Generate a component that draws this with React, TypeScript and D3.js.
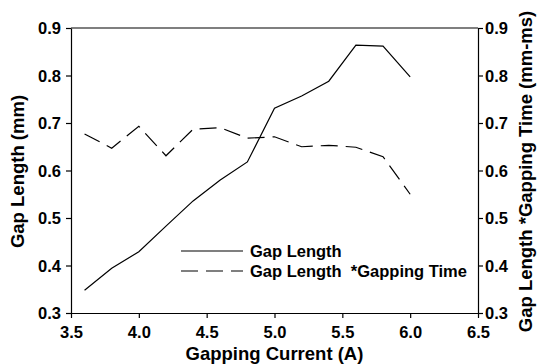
import React, { useEffect, useRef } from 'react';
import * as d3 from 'd3';

const current = [3.6, 3.8, 4.0, 4.2, 4.4, 4.6, 4.8, 5.0, 5.2, 5.4, 5.6, 5.8, 6.0];
const gapLength = [0.348, 0.394, 0.429, 0.483, 0.536, 0.58, 0.618, 0.731, 0.757, 0.788, 0.864, 0.862, 0.797];
const gapTimesTime = [0.677, 0.647, 0.693, 0.631, 0.687, 0.69, 0.668, 0.671, 0.65, 0.653, 0.649, 0.629, 0.55];
const xTicks = [3.5, 4.0, 4.5, 5.0, 5.5, 6.0, 6.5];
const yTicks = [0.3, 0.4, 0.5, 0.6, 0.7, 0.8, 0.9];

const W = 537;
const H = 364;
const margin = { top: 28, right: 59, bottom: 51, left: 71 };
const FONT = '"Liberation Sans", Arial, Helvetica, sans-serif';

export default function App() {
    const ref = useRef<SVGSVGElement>(null);

    useEffect(() => {
        const svg = d3.select(ref.current);
        svg.selectAll('*').remove();

        const x = d3.scaleLinear().domain([3.5, 6.5]).range([margin.left, W - margin.right]);
        const y = d3.scaleLinear().domain([0.3, 0.9]).range([H - margin.bottom, margin.top]);

        const g = svg.append('g')
            .style('font-family', FONT)
            .style('font-weight', 'bold');

        // frame on top
        g.append('line')
            .attr('x1', x(3.5)).attr('x2', x(6.5))
            .attr('y1', y(0.9)).attr('y2', y(0.9))
            .attr('stroke', '#000').attr('stroke-width', 1.2);

        const xAxis = g.append('g')
            .attr('transform', `translate(0,${y(0.3)})`)
            .call(d3.axisBottom(x).tickValues(xTicks).tickFormat(d3.format('.1f')).tickSize(5).tickSizeOuter(0));
        const yLeft = g.append('g')
            .attr('transform', `translate(${x(3.5)},0)`)
            .call(d3.axisLeft(y).tickValues(yTicks).tickFormat(d3.format('.1f')).tickSize(5).tickSizeOuter(0));
        const yRight = g.append('g')
            .attr('transform', `translate(${x(6.5)},0)`)
            .call(d3.axisRight(y).tickValues(yTicks).tickFormat(d3.format('.1f')).tickSize(5).tickSizeOuter(0));

        [xAxis, yLeft, yRight].forEach(a => {
            a.selectAll('path,line').attr('stroke', '#000').attr('stroke-width', 1.2);
            a.selectAll('text')
                .attr('fill', '#000')
                .style('font-family', FONT)
                .style('font-weight', 'bold')
                .style('font-size', '16.5px');
        });
        xAxis.selectAll('text').attr('y', 0).attr('dy', 0).attr('transform', 'translate(0,25)');
        yLeft.selectAll('text').attr('x', -10).attr('dy', '0.36em');
        yRight.selectAll('text').attr('x', 7).attr('dy', '0.36em');

        const line = d3.line<number>()
            .x((_, i) => x(current[i]))
            .y(d => y(d));

        g.append('path')
            .datum(gapLength)
            .attr('d', line)
            .attr('fill', 'none')
            .attr('stroke', '#000')
            .attr('stroke-width', 1.2);

        g.append('path')
            .datum(gapTimesTime)
            .attr('d', line)
            .attr('fill', 'none')
            .attr('stroke', '#000')
            .attr('stroke-width', 1.2)
            .attr('stroke-dasharray', '17,8');

        // legend
        const legend = [
            { label: 'Gap Length', dash: null },
            { label: 'Gap Length\u00a0 *Gapping Time', dash: '17,8' },
        ];
        legend.forEach((l, i) => {
            const ly = 251 + i * 20;
            g.append('line')
                .attr('x1', 181).attr('x2', 243)
                .attr('y1', ly).attr('y2', ly)
                .attr('stroke', '#000').attr('stroke-width', 1.2)
                .attr('stroke-dasharray', l.dash);
            g.append('text')
                .attr('x', 250).attr('y', ly + 6)
                .style('font-size', '16.5px')
                .text(l.label);
        });

        // axis titles
        g.append('text')
            .attr('x', (x(3.5) + x(6.5)) / 2).attr('y', 360)
            .attr('text-anchor', 'middle')
            .style('font-size', '18.5px')
            .text('Gapping Current (A)');
        g.append('text')
            .attr('transform', `translate(24,${(y(0.3) + y(0.9)) / 2 + 1}) rotate(-90)`)
            .attr('text-anchor', 'middle')
            .style('font-size', '18.5px')
            .text('Gap Length (mm)');
        g.append('text')
            .attr('transform', `translate(532,${(y(0.3) + y(0.9)) / 2 + 1}) rotate(-90)`)
            .attr('text-anchor', 'middle')
            .style('font-size', '18.5px')
            .text('Gap Length *Gapping Time (mm-ms)');
    }, []);

    return (
        <svg ref={ref} width={W} height={H}
            style={{ position: 'absolute', left: 0, top: 0, background: '#fff' }} />
    );
}
